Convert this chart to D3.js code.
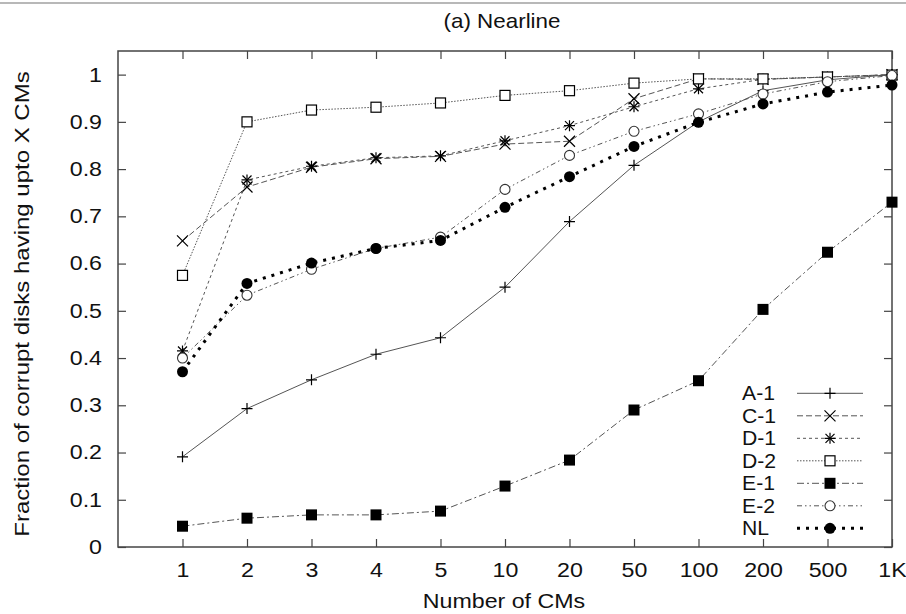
<!DOCTYPE html>
<html>
<head>
<meta charset="utf-8">
<script src="https://cdn.jsdelivr.net/npm/d3@7"></script>
<style>
  body { margin: 0; background: #fff; }
  text { font-family: "Liberation Sans", Arial, Helvetica, sans-serif; fill: #111; }
</style>
</head>
<body>
<svg id="chart" width="906" height="614"></svg>
<script>
// Number of checksum mismatches (x) and cumulative fraction of corrupt disks (y)
const categories = ["1", "2", "3", "4", "5", "10", "20", "50", "100", "200", "500", "1K"];
const yTickValues = [0, 0.1, 0.2, 0.3, 0.4, 0.5, 0.6, 0.7, 0.8, 0.9, 1];

const seriesNames = ["A-1", "C-1", "D-1", "D-2", "E-1", "E-2", "NL"];
const valuesA1 = [0.191, 0.293, 0.354, 0.408, 0.443, 0.550, 0.689, 0.808, 0.900, 0.966, 0.989, 1.000];
const valuesC1 = [0.648, 0.762, 0.804, 0.822, 0.827, 0.853, 0.859, 0.949, 0.991, 0.990, 0.995, 1.000];
const valuesD1 = [0.415, 0.777, 0.806, 0.824, 0.828, 0.860, 0.892, 0.932, 0.970, 0.990, 0.995, 1.000];
const valuesD2 = [0.575, 0.900, 0.925, 0.931, 0.940, 0.956, 0.966, 0.982, 0.991, 0.991, 0.995, 0.999];
const valuesE1 = [0.044, 0.061, 0.068, 0.068, 0.076, 0.129, 0.184, 0.290, 0.352, 0.503, 0.624, 0.730];
const valuesE2 = [0.400, 0.533, 0.588, 0.632, 0.656, 0.757, 0.829, 0.880, 0.917, 0.959, 0.985, 0.998];
const valuesNL = [0.371, 0.558, 0.601, 0.632, 0.649, 0.719, 0.784, 0.848, 0.899, 0.938, 0.963, 0.978];

const seriesValues = [valuesA1, valuesC1, valuesD1, valuesD2, valuesE1, valuesE2, valuesNL];

// line dash pattern, line width and point symbol for each series
const styles = {
  "A-1": { dash: null,              width: 1, marker: "plus" },
  "C-1": { dash: "6,3",             width: 1, marker: "cross" },
  "D-1": { dash: "3,3",             width: 1, marker: "star" },
  "D-2": { dash: "1.5,1.5",         width: 1, marker: "square" },
  "E-1": { dash: "7,3,2,3",         width: 1, marker: "squareFill" },
  "E-2": { dash: "5,3,1.5,3,1.5,3", width: 1, marker: "circle" },
  "NL":  { dash: "3,6",             width: 3, marker: "circleFill" }
};

const W = 906, H = 614;
const plot = { left: 118, right: 892, top: 51, bottom: 547 };
const textStretch = 1.16;   // glyphs are drawn a little wide

const svg = d3.select("#chart");
svg.append("rect").attr("width", W).attr("height", H).attr("fill", "#fff");
// thin grey rule across the top of the page
svg.append("rect").attr("x", 0).attr("y", 2).attr("width", W).attr("height", 2).attr("fill", "#b8b8b8");

const step = (plot.right - plot.left) / 12;
const x = d3.scalePoint().domain(categories).range([plot.left + step, plot.right]);
const y = d3.scaleLinear().domain([0, 1.05]).range([plot.bottom, plot.top]);

const axisColor = "#444";

// widen a text element horizontally around its anchor point
function stretch(sel, k) {
  sel.each(function () {
    const t = d3.select(this);
    const tx = +t.attr("x") || 0, ty = +t.attr("y") || 0;
    t.attr("x", 0).attr("y", 0).attr("transform", `translate(${tx},${ty}) scale(${k},1)`);
  });
}

// axes with inward ticks on all four sides
const gBottom = svg.append("g").attr("transform", `translate(0,${plot.bottom})`)
  .call(d3.axisBottom(x).tickSizeInner(-8).tickSizeOuter(0).tickPadding(16));
const gTop = svg.append("g").attr("transform", `translate(0,${plot.top})`)
  .call(d3.axisTop(x).tickSizeInner(-8).tickSizeOuter(0).tickFormat(""));
const gLeft = svg.append("g").attr("transform", `translate(${plot.left},0)`)
  .call(d3.axisLeft(y).tickValues(yTickValues).tickFormat(d3.format("")).tickSizeInner(-8).tickSizeOuter(0).tickPadding(16));
const gRight = svg.append("g").attr("transform", `translate(${plot.right},0)`)
  .call(d3.axisRight(y).tickValues(yTickValues).tickSizeInner(-8).tickSizeOuter(0).tickFormat(""));

[gBottom, gTop, gLeft, gRight].forEach(g => {
  g.select(".domain").remove();
  g.selectAll(".tick line").attr("stroke", axisColor).attr("stroke-width", 1.2);
  g.selectAll("text").attr("font-size", 20).attr("font-family", "Liberation Sans, Arial, sans-serif").attr("fill", "#111");
});
stretch(gBottom.selectAll("text"), textStretch);
stretch(gLeft.selectAll("text"), textStretch);

// plot frame
svg.append("rect")
  .attr("x", plot.left).attr("y", plot.top)
  .attr("width", plot.right - plot.left).attr("height", plot.bottom - plot.top)
  .attr("fill", "none").attr("stroke", axisColor).attr("stroke-width", 1.5);

// titles
svg.append("text").attr("x", 502).attr("y", 28).attr("text-anchor", "middle")
  .attr("font-size", 20).text("(a) Nearline").call(stretch, 1.12);
svg.append("text").attr("x", 504).attr("y", 608).attr("text-anchor", "middle")
  .attr("font-size", 20).text("Number of CMs").call(stretch, textStretch);
svg.append("g")
  .attr("transform", `translate(29,304) rotate(-90)`)
  .append("text").attr("text-anchor", "middle").attr("font-size", 20)
  .text("Fraction of corrupt disks having upto X CMs").call(stretch, 1.2);

// point symbols
function drawMarker(g, type, cx, cy) {
  const s = 5.5;
  const k = "#000";
  if (type === "plus" || type === "star") {
    g.append("path").attr("d", `M${cx - s},${cy}H${cx + s}M${cx},${cy - s}V${cy + s}`)
      .attr("stroke", k).attr("stroke-width", 1.2).attr("fill", "none");
  }
  if (type === "cross" || type === "star") {
    const c = type === "star" ? 4.5 : 5.5;
    g.append("path").attr("d", `M${cx - c},${cy - c}L${cx + c},${cy + c}M${cx - c},${cy + c}L${cx + c},${cy - c}`)
      .attr("stroke", k).attr("stroke-width", 1.2).attr("fill", "none");
  }
  if (type === "square") {
    g.append("rect").attr("x", cx - 5).attr("y", cy - 5).attr("width", 10).attr("height", 10)
      .attr("fill", "#fff").attr("stroke", k).attr("stroke-width", 1.2);
  }
  if (type === "squareFill") {
    g.append("rect").attr("x", cx - 5.5).attr("y", cy - 5.5).attr("width", 11).attr("height", 11)
      .attr("fill", k);
  }
  if (type === "circle") {
    g.append("circle").attr("cx", cx).attr("cy", cy).attr("r", 5)
      .attr("fill", "#fff").attr("stroke", "#333").attr("stroke-width", 1.1);
  }
  if (type === "circleFill") {
    g.append("circle").attr("cx", cx).attr("cy", cy).attr("r", 5.5).attr("fill", k);
  }
}

const line = d3.line().x((d, i) => x(categories[i])).y(d => y(d));

seriesNames.forEach((name, si) => {
  const st = styles[name];
  const vals = seriesValues[si];
  const g = svg.append("g").attr("class", "series");
  g.append("path").datum(vals).attr("d", line)
    .attr("fill", "none")
    .attr("stroke", name === "NL" ? "#000" : "#555")
    .attr("stroke-width", st.width)
    .attr("stroke-dasharray", st.dash);
  vals.forEach((v, i) => drawMarker(g, st.marker, x(categories[i]), y(v)));
});

// legend
const legend = svg.append("g");
const legendTop = 393.3, legendStep = 22.5;
seriesNames.forEach((name, i) => {
  const st = styles[name];
  const cy = legendTop + i * legendStep;
  legend.append("text").attr("x", 742).attr("y", cy + 7).attr("font-size", 20).text(name).call(stretch, 1.06);
  legend.append("line").attr("x1", 797).attr("x2", 863).attr("y1", cy).attr("y2", cy)
    .attr("stroke", name === "NL" ? "#000" : "#555")
    .attr("stroke-width", st.width)
    .attr("stroke-dasharray", st.dash);
  drawMarker(legend, st.marker, 830, cy);
});
</script>
</body>
</html>
